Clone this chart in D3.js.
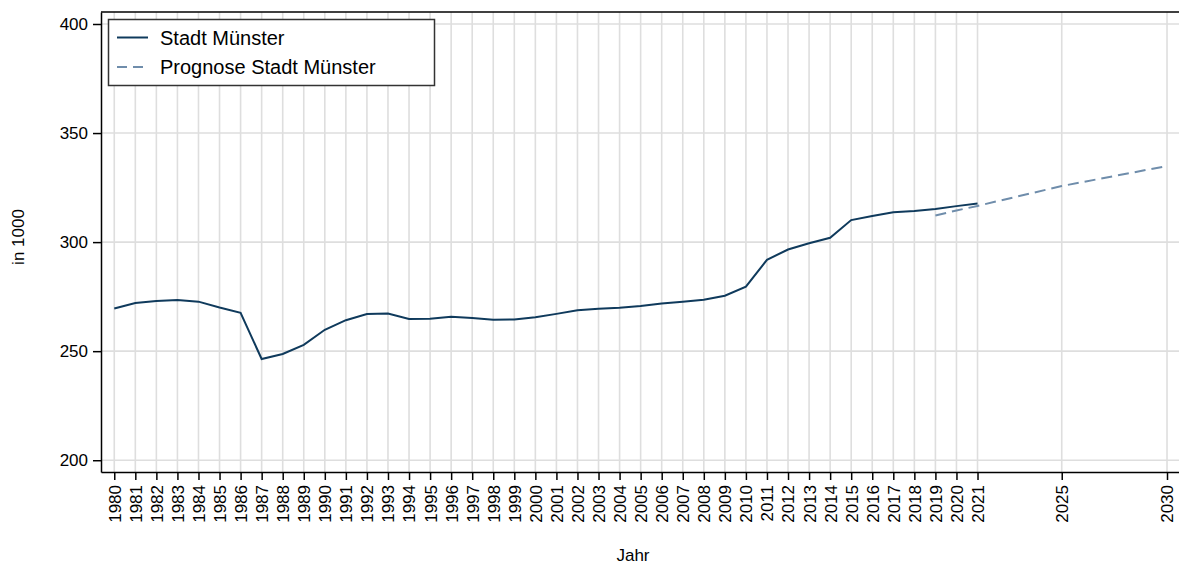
<!DOCTYPE html>
<html>
<head>
<meta charset="utf-8">
<script src="https://cdn.jsdelivr.net/npm/d3@7"></script>
<style>
	body { margin: 0; background: #fff; }
	svg { display: block; font-family: Arial, "Liberation Sans", sans-serif; }
</style>
</head>
<body>
<svg id="chart" width="1179" height="565"></svg>
<script>
// observed population, city of Münster (in 1000)
const years = d3.range(1980, 2022);
const einwohner = [269.6, 272.1, 273.0, 273.5, 272.7, 270.0, 267.6, 246.4, 248.7, 252.9,
	259.8, 264.2, 267.0, 267.3, 264.8, 264.9, 265.8, 265.2, 264.4, 264.5,
	265.6, 267.1, 268.8, 269.4, 269.9, 270.7, 271.9, 272.7, 273.6, 275.4,
	279.6, 291.9, 296.6, 299.5, 302.0, 310.1, 312.0, 313.7, 314.3, 315.2,
	316.5, 317.7];

// forecast
const prognoseYears = [2019, 2020, 2021, 2025, 2030];
const prognose = [312.2, 314.5, 316.6, 325.7, 334.9];

const xTicks = d3.range(1980, 2022).concat([2025, 2030]);
const yTicks = [200, 250, 300, 350, 400];

const seriesNames = ['Stadt Münster', 'Prognose Stadt Münster'];
const colors = ['#0f3a5c', '#6f8dab'];

const svg = d3.select('#chart');

const mLeft = 101, mRight = 1200, mTop = 12, mBottom = 472;

const xScale = d3.scaleLinear()
	.domain([1979.37, 2030 + (mRight - 1167) / 21.06])
	.range([mLeft, mRight]);

const yScale = d3.scaleLinear()
	.domain([194.6, 405.5])
	.range([mBottom, mTop]);

// grid
let grid = svg.append('g').attr('class', 'grid');
grid.selectAll('line.v')
	.data(xTicks)
	.enter().append('line')
	.attr('class', 'v')
	.attr('x1', d => xScale(d)).attr('x2', d => xScale(d))
	.attr('y1', mTop).attr('y2', mBottom)
	.attr('stroke', '#dedede')
	.attr('stroke-width', 1.6);
grid.selectAll('line.h')
	.data(yTicks)
	.enter().append('line')
	.attr('class', 'h')
	.attr('x1', mLeft).attr('x2', mRight)
	.attr('y1', d => yScale(d)).attr('y2', d => yScale(d))
	.attr('stroke', '#dedede')
	.attr('stroke-width', 1.6);

// lines
let lineFn = d3.line()
	.x(d => xScale(d[0]))
	.y(d => yScale(d[1]));

svg.append('path')
	.attr('d', lineFn(d3.zip(years, einwohner)))
	.attr('fill', 'none')
	.attr('stroke', colors[0])
	.attr('stroke-width', 2);

svg.append('path')
	.attr('d', lineFn(d3.zip(prognoseYears, prognose)))
	.attr('fill', 'none')
	.attr('stroke', colors[1])
	.attr('stroke-width', 2)
	.attr('stroke-dasharray', '11,6');

// axes
let xAxis = d3.axisBottom(xScale)
	.tickValues(xTicks)
	.tickFormat(d3.format('d'))
	.tickSize(8)
	.tickPadding(5)
	.tickSizeOuter(0);

let gX = svg.append('g')
	.attr('class', 'x-axis')
	.attr('transform', `translate(0, ${mBottom})`)
	.call(xAxis);

gX.selectAll('text')
	.attr('transform', 'rotate(-90)')
	.attr('x', -13)
	.attr('y', 0)
	.attr('dy', '0.35em')
	.style('text-anchor', 'end');

let yAxis = d3.axisLeft(yScale)
	.tickValues(yTicks)
	.tickSize(8)
	.tickPadding(5)
	.tickSizeOuter(0);

let gY = svg.append('g')
	.attr('class', 'y-axis')
	.attr('transform', `translate(${mLeft}, 0)`)
	.call(yAxis);

svg.selectAll('.x-axis text, .y-axis text')
	.attr('fill', '#000')
	.style('font-size', '17px')
	.style('font-family', 'Arial, "Liberation Sans", sans-serif');
svg.selectAll('.x-axis .domain, .y-axis .domain, .tick line')
	.attr('stroke', '#000')
	.attr('stroke-width', 1.5);

// top frame
svg.append('line')
	.attr('x1', mLeft).attr('x2', mRight)
	.attr('y1', mTop).attr('y2', mTop)
	.attr('stroke', '#000')
	.attr('stroke-width', 1.5);

// axis titles
svg.append('text')
	.attr('x', 633).attr('y', 561)
	.attr('text-anchor', 'middle')
	.style('font-size', '17px')
	.text('Jahr');

svg.append('text')
	.attr('transform', 'translate(24, 237) rotate(-90)')
	.attr('text-anchor', 'middle')
	.style('font-size', '17px')
	.text('in 1000');

// legend
let legend = svg.append('g').attr('class', 'legend');
legend.append('rect')
	.attr('x', 108.5).attr('y', 19.5)
	.attr('width', 326).attr('height', 66)
	.attr('fill', '#fff')
	.attr('stroke', '#333')
	.attr('stroke-width', 1.5);

let items = legend.selectAll('g.item')
	.data(seriesNames)
	.enter().append('g')
	.attr('class', 'item')
	.attr('transform', (d, i) => `translate(0, ${37.5 + i * 29.5})`);

items.append('line')
	.attr('x1', 117).attr('x2', 148)
	.attr('stroke', (d, i) => colors[i])
	.attr('stroke-width', 2)
	.attr('stroke-dasharray', (d, i) => i ? '10,6' : null);

items.append('text')
	.attr('x', 160)
	.attr('dy', '0.35em')
	.style('font-size', '20px')
	.text(d => d);
</script>
</body>
</html>
